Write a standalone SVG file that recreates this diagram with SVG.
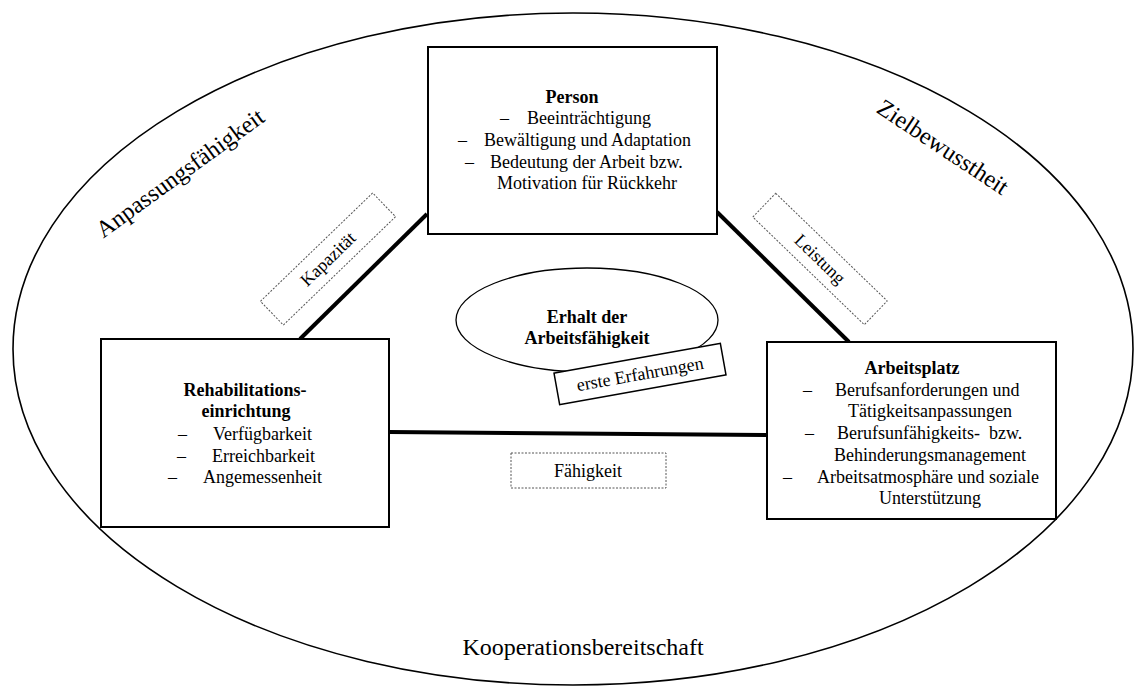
<svg xmlns="http://www.w3.org/2000/svg" width="1135" height="690" viewBox="0 0 1135 690">
<style>
text{font-family:"Liberation Serif","Times New Roman",serif;fill:#000}
.t{font-size:18px}
.b{font-size:18px;font-weight:bold}
.big{font-size:24px}
.box{fill:#fff;stroke:#000;stroke-width:2}
.lbl{fill:#fff;stroke:#555;stroke-width:1;stroke-dasharray:2 1.5}
.con{stroke:#000;stroke-width:4;fill:none}
.m{text-anchor:middle}
</style>
<rect width="1135" height="690" fill="#fff"/>
<g id="outer">
<ellipse cx="573" cy="349" rx="560" ry="336" fill="none" stroke="#000" stroke-width="1.6"/>
<text class="big m" transform="translate(180,173) rotate(-36)" x="0" y="8">Anpassungsfähigkeit</text>
<text class="big m" transform="translate(943,147) rotate(33.6)" x="0" y="8">Zielbewusstheit</text>
<text class="big m" x="583" y="655">Kooperationsbereitschaft</text>
</g>
<g id="connectors">
<line class="con" x1="427" y1="214" x2="300" y2="339"/>
<line class="con" x1="717" y1="212" x2="849" y2="342"/>
<line class="con" x1="389" y1="432" x2="767" y2="435"/>
</g>
<g id="lbl-kapazitaet" transform="translate(328,259) rotate(-44)">
<rect class="lbl" x="-78" y="-16.5" width="156" height="33"/>
<text class="t m" x="0" y="6">Kapazität</text>
</g>
<g id="lbl-leistung" transform="translate(820,259) rotate(44)">
<rect class="lbl" x="-77.5" y="-16.5" width="155" height="33"/>
<text class="t m" x="0" y="6">Leistung</text>
</g>
<g id="lbl-faehigkeit">
<rect class="lbl" x="511" y="453" width="155" height="35"/>
<text class="t m" x="588" y="477">Fähigkeit</text>
</g>
<g id="person">
<rect class="box" x="428" y="47" width="289" height="187"/>
<text class="b m" x="572" y="103">Person</text>
<text class="t" x="500" y="124">–</text><text class="t" x="527" y="124">Beeinträchtigung</text>
<text class="t" x="458" y="146">–</text><text class="t" x="484" y="146">Bewältigung und Adaptation</text>
<text class="t" x="465" y="168">–</text><text class="t" x="490" y="168">Bedeutung der Arbeit bzw.</text>
<text class="t m" x="587" y="189">Motivation für Rückkehr</text>
</g>
<g id="rehab">
<rect class="box" x="101" y="339" width="288" height="188"/>
<text class="b m" x="245" y="396">Rehabilitations-</text>
<text class="b m" x="246" y="417">einrichtung</text>
<text class="t" x="178" y="440">–</text><text class="t" x="213" y="440">Verfügbarkeit</text>
<text class="t" x="177" y="462">–</text><text class="t" x="212" y="462">Erreichbarkeit</text>
<text class="t" x="168" y="483">–</text><text class="t" x="203" y="483">Angemessenheit</text>
</g>
<g id="arbeitsplatz">
<rect class="box" x="767" y="342" width="289" height="177"/>
<text class="b m" x="912" y="374">Arbeitsplatz</text>
<text class="t" x="803" y="396">–</text><text class="t" x="835" y="396">Berufsanforderungen und</text>
<text class="t m" x="930" y="417">Tätigkeitsanpassungen</text>
<text class="t" x="805" y="439">–</text><text class="t" x="837" y="439" xml:space="preserve">Berufsunfähigkeits-  bzw.</text>
<text class="t m" x="930" y="461">Behinderungsmanagement</text>
<text class="t" x="783" y="483">–</text><text class="t" x="817" y="483">Arbeitsatmosphäre und soziale</text>
<text class="t m" x="930" y="504">Unterstützung</text>
</g>
<g id="center">
<ellipse cx="587" cy="320" rx="131" ry="52" fill="#fff" stroke="#000" stroke-width="1.3"/>
<text class="b m" x="587" y="323">Erhalt der</text>
<text class="b m" x="587" y="344">Arbeitsfähigkeit</text>
</g>
<g id="erste-erfahrungen" transform="translate(640,374) rotate(-10.2)">
<rect x="-84.5" y="-16" width="169" height="32" fill="#fff" stroke="#000" stroke-width="1.5"/>
<text class="t m" x="0" y="6">erste Erfahrungen</text>
</g>
</svg>
